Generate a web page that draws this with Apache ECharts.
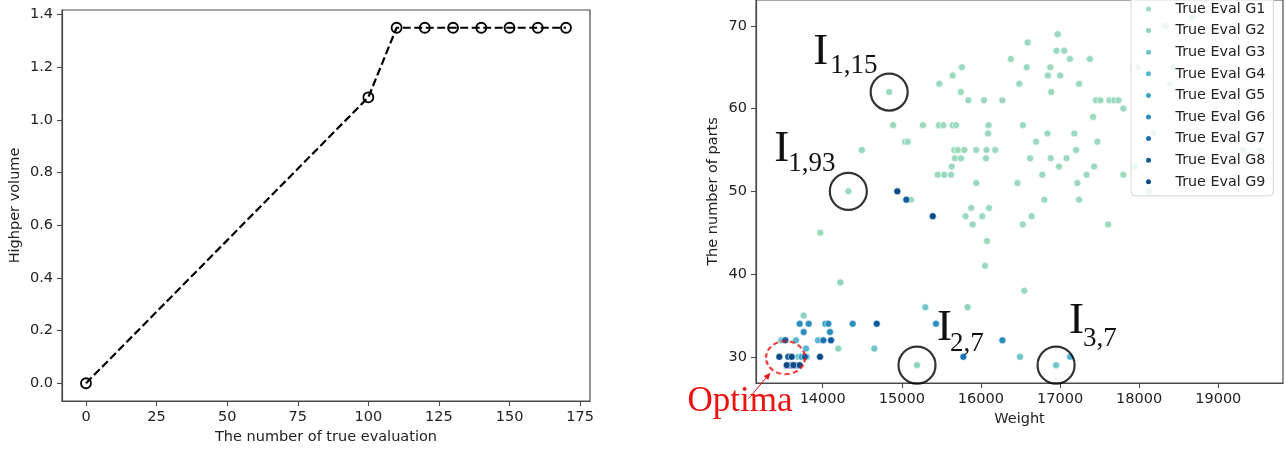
<!DOCTYPE html>
<html>
<head>
<meta charset="utf-8">
<script src="https://cdn.jsdelivr.net/npm/echarts@6/dist/echarts.min.js"></script>
<style>
  html, body { margin: 0; padding: 0; background: #fff; }
  #chart { width: 1287px; height: 450px; }
</style>
</head>
<body>
<div id="chart"></div>
<script>
// left panel: hypervolume vs number of true evaluations
var evalCounts = [0, 100, 110, 120, 130, 140, 150, 160, 170];
var hvValues = [0, 1.086, 1.35, 1.35, 1.35, 1.35, 1.35, 1.35, 1.35];
var leftXTicks = [0, 25, 50, 75, 100, 125, 150, 175];
var leftYTicks = [0, 0.2, 0.4, 0.6, 0.8, 1.0, 1.2, 1.4];

// right panel: [weight, number of parts] per generation
var groupNames = ['True Eval G1', 'True Eval G2', 'True Eval G3', 'True Eval G4', 'True Eval G5',
  'True Eval G6', 'True Eval G7', 'True Eval G8', 'True Eval G9'];
var groupColors = ['#9ad9bd', '#8dd3bf', '#70c5c9', '#55b6d4', '#3da2cb', '#2b8cbe', '#1a73b0', '#0c5b9f', '#0a4988'];
var g1 = [
  [18670, 71], [18330, 70], [16970, 69], [16590, 68], [16955, 67], [17053, 67],
  [16377, 66], [17125, 66], [17377, 66],
  [15760, 65], [16579, 65], [16878, 65], [17990, 65], [18432, 65],
  [15643, 64], [16846, 64], [17002, 64],
  [15474, 63], [16486, 63], [17240, 63], [18390, 63],
  [14840, 62], [15747, 62], [16888, 62],
  [15841, 61], [16039, 61], [16271, 61], [17455, 61], [17510, 61], [17625, 61], [17687, 61], [17738, 61],
  [17800, 60], [17418, 59],
  [14891, 58], [15266, 58], [15468, 58], [15525, 58], [15643, 58], [15685, 58], [16096, 58], [16530, 58],
  [16090, 57], [16840, 57], [17181, 57], [18180, 57],
  [15040, 56], [15075, 56], [16697, 56], [17472, 56],
  [14495, 55], [15664, 55], [15707, 55], [15790, 55], [15940, 55], [16070, 55], [16180, 55], [17203, 55], [19314, 55], [19529, 55],
  [15672, 54], [15748, 54], [16064, 54], [16621, 54], [16882, 54], [17082, 54],
  [15630, 53], [16987, 53], [17430, 53], [17950, 53],
  [15453, 52], [15537, 52], [15622, 52], [16776, 52], [17335, 52], [17800, 52],
  [15940, 51], [16462, 51], [17219, 51],
  [14324, 50], [18130, 50],
  [15116, 49], [16802, 49], [17240, 49],
  [15877, 48], [16102, 48],
  [15805, 47], [16016, 47], [16642, 47],
  [15896, 46], [16530, 46], [17608, 46],
  [13970, 45], [16077, 44], [16052, 41], [16549, 38]
];
var g2 = [[15192, 29], [13760, 35], [14197, 31], [15831, 36], [14223, 39]];
var g3 = [[16950, 29], [16494, 30], [15297, 36], [14652, 31], [13477, 32], [13692, 30]];
var g4 = [[13662, 32], [13941, 32], [13790, 31], [13798, 30], [17126, 30]];
var g5 = [[14033, 34], [13734, 30]];
var g6 = [[13709, 34], [13823, 34], [14071, 34], [14379, 34], [15432, 34], [13760, 33], [14092, 33], [16271, 32]];
var g7 = [[14008, 32], [15778, 30], [13670, 29]];
var g8 = [[14683, 34], [13527, 32], [14105, 32], [13565, 30], [13776, 30], [15057, 49], [13590, 29]];
var g9 = [[13452, 30], [13608, 30], [13966, 30], [13545, 29], [13630, 29], [13710, 29], [14943, 50], [15391, 47]];
var groups = [g1, g2, g3, g4, g5, g6, g7, g8, g9];
var rightXTicks = [14000, 15000, 16000, 17000, 18000, 19000];
var rightYTicks = [30, 40, 50, 60, 70];

// circled individuals and the optimum region
var circledPoints = [[14840, 62], [14324, 50], [15192, 29], [16950, 29]];
var optimaCenter = [[13530, 29.9]];

var FONT = 'DejaVu Sans';
var TXT = '#222';
var SPINE = '#4a4a4a';

function axisBase(ticks, extra) {
  var a = {
    type: 'value',
    axisLine: { show: true, onZero: false, lineStyle: { color: SPINE, width: 1.2 } },
    axisTick: { show: true, inside: false, length: 5, customValues: ticks, lineStyle: { color: SPINE, width: 1.1 } },
    axisLabel: { customValues: ticks, fontFamily: FONT, fontSize: 14.5, color: TXT, margin: 9,
      formatter: function (v) { return String(v); } },
    splitLine: { show: false },
    nameLocation: 'middle',
    nameTextStyle: { fontFamily: FONT, fontSize: 14.5, color: TXT }
  };
  for (var k in extra) a[k] = extra[k];
  return a;
}

var chart = echarts.init(document.getElementById('chart'), null, { renderer: 'canvas' });

var series = [{
  type: 'line',
  xAxisIndex: 0, yAxisIndex: 0,
  data: evalCounts.map(function (x, i) { return [x, hvValues[i]]; }),
  symbol: 'circle', symbolSize: 10, showAllSymbol: true,
  lineStyle: { color: '#000', width: 2.2, type: [8, 3.5] },
  itemStyle: { color: 'rgba(0,0,0,0)', borderColor: '#000', borderWidth: 1.8 },
  silent: true, animation: false
}];

groups.forEach(function (g, i) {
  series.push({
    name: groupNames[i],
    type: 'scatter',
    xAxisIndex: 1, yAxisIndex: 1,
    data: g,
    symbolSize: 7,
    itemStyle: { color: groupColors[i], borderColor: '#fff', borderWidth: 0.6, opacity: 1 },
    animation: false
  });
});

series.push({
  type: 'scatter', xAxisIndex: 1, yAxisIndex: 1,
  data: circledPoints, symbolSize: 37, z: 5,
  itemStyle: { color: 'rgba(0,0,0,0)', borderColor: '#000', borderWidth: 2.2 },
  silent: true, animation: false
});
series.push({
  type: 'scatter', xAxisIndex: 1, yAxisIndex: 1,
  data: optimaCenter, symbolSize: [39, 33], z: 5,
  itemStyle: { color: 'rgba(0,0,0,0)', borderColor: '#ee1111', borderWidth: 2.2, borderType: [5, 3] },
  silent: true, animation: false
});

chart.setOption({
  backgroundColor: '#fff',
  animation: false,
  grid: [
    { left: 62, top: 10, width: 528, height: 393, show: true, borderColor: SPINE, borderWidth: 1.2 },
    { left: 756, top: -2, width: 527, height: 385, show: true, borderColor: SPINE, borderWidth: 1.2 }
  ],
  xAxis: [
    axisBase(leftXTicks, { gridIndex: 0, min: -8.5, max: 178.5, name: 'The number of true evaluation', nameGap: 29 }),
    axisBase(rightXTicks, { gridIndex: 1, min: 13157, max: 19818, name: 'Weight', nameGap: 28 })
  ],
  yAxis: [
    axisBase(leftYTicks, { gridIndex: 0, min: -0.0675, max: 1.4175, name: 'Highper volume', nameGap: 39,
      axisLabel: { customValues: leftYTicks, fontFamily: FONT, fontSize: 14.5, color: TXT, margin: 9,
        formatter: function (v) { return v.toFixed(1); } } }),
    axisBase(rightYTicks, { gridIndex: 1, min: 26.84, max: 73.125, name: 'The number of parts', nameGap: 35 })
  ],
  legend: {
    orient: 'vertical', left: 1131, top: -5,
    data: groupNames, icon: 'circle',
    itemWidth: 14, itemHeight: 7, itemGap: 7.6,
    padding: [7, 8, 7, 13],
    textStyle: { fontFamily: FONT, fontSize: 14.3, color: TXT, lineHeight: 14, padding: [0, 0, 0, 15] },
    backgroundColor: 'rgba(255,255,255,0.8)', borderColor: '#d4d4d4', borderWidth: 1, borderRadius: 4
  },
  series: series
});

// text annotations placed relative to the circled points
var labels = [
  { sub: '1,15', dx: -76, base: -25, sdx: -59, sbase: -17 },
  { sub: '1,93', dx: -74, base: -27, sdx: -60, sbase: -18 },
  { sub: '2,7', dx: 20, base: -22, sdx: 33, sbase: -12 },
  { sub: '3,7', dx: 13, base: -29, sdx: 27, sbase: -17 }
];
var SERIF = 'Liberation Serif';
var gfx = [];
circledPoints.forEach(function (p, i) {
  var px = chart.convertToPixel({ xAxisIndex: 1, yAxisIndex: 1 }, p);
  var l = labels[i];
  gfx.push({ type: 'text', z: 10, x: px[0] + l.dx, y: px[1] + l.base - 15,
    style: { text: 'I', font: '45px "' + SERIF + '"', fill: '#111', align: 'left', verticalAlign: 'middle' } });
  gfx.push({ type: 'text', z: 10, x: px[0] + l.sdx, y: px[1] + l.sbase - 9,
    style: { text: l.sub, font: '27px "' + SERIF + '"', fill: '#111', align: 'left', verticalAlign: 'middle' } });
});
var oc = chart.convertToPixel({ xAxisIndex: 1, yAxisIndex: 1 }, optimaCenter[0]);
gfx.push({ type: 'text', z: 10, x: oc[0] - 98, y: oc[1] + 44,
  style: { text: 'Optima', font: '35px "' + SERIF + '"', fill: '#ee1111', align: 'left', verticalAlign: 'middle' } });
var a0 = [oc[0] - 37, oc[1] + 41], a1 = [oc[0] - 15, oc[1] + 15];
var ang = Math.atan2(a1[1] - a0[1], a1[0] - a0[0]);
var hl = 7, hw = 3;
var back = [a1[0] - hl * Math.cos(ang), a1[1] - hl * Math.sin(ang)];
gfx.push({ type: 'line', z: 10, shape: { x1: a0[0], y1: a0[1], x2: back[0], y2: back[1] },
  style: { stroke: '#ee1111', lineWidth: 1 } });
gfx.push({ type: 'polygon', z: 10, shape: { points: [
  a1,
  [back[0] + hw * Math.sin(ang), back[1] - hw * Math.cos(ang)],
  [back[0] - hw * Math.sin(ang), back[1] + hw * Math.cos(ang)]
] }, style: { fill: '#ee1111' } });
chart.setOption({ graphic: gfx });
</script>
</body>
</html>
